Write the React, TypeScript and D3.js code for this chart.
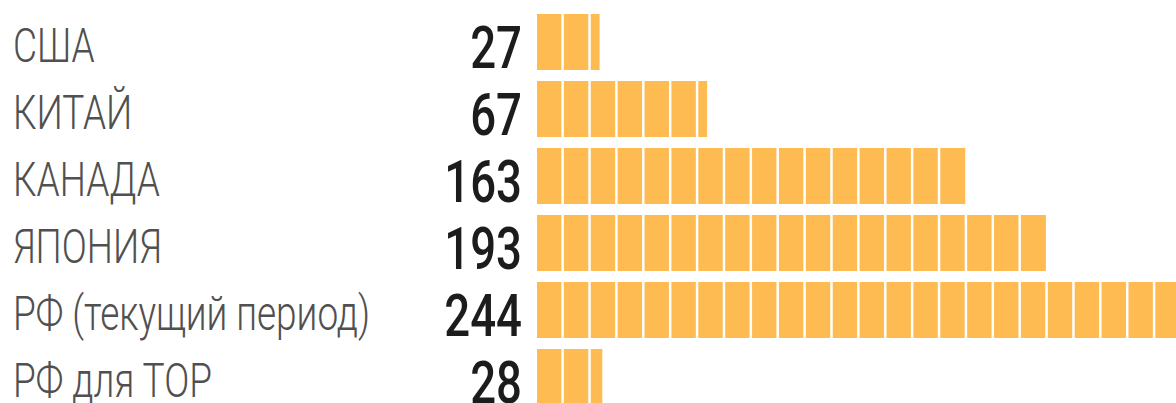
import React from 'react';
import * as d3 from 'd3';

// data
const countries = ['США', 'КИТАЙ', 'КАНАДА', 'ЯПОНИЯ', 'РФ (текущий период)', 'РФ для ТОР'];
const values = [27, 67, 163, 193, 244, 28];
const segmentUnit = 10;

const W = 1176;
const H = 403;
const barColor = '#FDBB52';

export default function App() {
  // value scale fitted to the bar ends
  const x = d3.scaleLinear().domain([0, 244]).range([527, 1183]);
  const y = d3.scaleBand<string>()
    .domain(countries)
    .range([8.5, 410.5])
    .paddingInner(0.164)
    .paddingOuter(0.082);

  const barStart = 537;
  const segW = x(segmentUnit) - x(0);

  return (
    <>
      <style>{'body{margin:0;background:#fff}'}</style>
      <svg width={W} height={H} style={{ display: 'block' }}>
        {countries.map((c, i) => {
          const v = values[i];
          const top = y(c)!;
          const bh = y.bandwidth();
          const mid = top + bh / 2;
          const end = x(v);
          // split the bar into 10-unit blocks
          const segs = d3.range(barStart, end, segW).map(s => [s, Math.min(s + segW, end)]);
          return (
            <g key={c}>
              <text
                transform={`translate(13,${mid + 20}) scale(0.77,1)`}
                fill="#505050"
                style={{ fontFamily: 'Roboto, sans-serif', fontSize: 48, fontWeight: 300 }}
              >{c}</text>
              <text
                transform={`translate(522,${mid + 26}) scale(0.76,1)`}
                textAnchor="end"
                fill="#1c1c1c"
                style={{ fontFamily: 'Roboto, sans-serif', fontSize: 60, fontWeight: 500 }}
              >{v}</text>
              {segs.map(([s0, s1], k) => (
                <rect
                  key={k}
                  x={s0}
                  y={top}
                  width={Math.max(0, s1 - s0 - (s1 < end ? 2.5 : 0))}
                  height={bh}
                  fill={barColor}
                />
              ))}
            </g>
          );
        })}
      </svg>
    </>
  );
}
